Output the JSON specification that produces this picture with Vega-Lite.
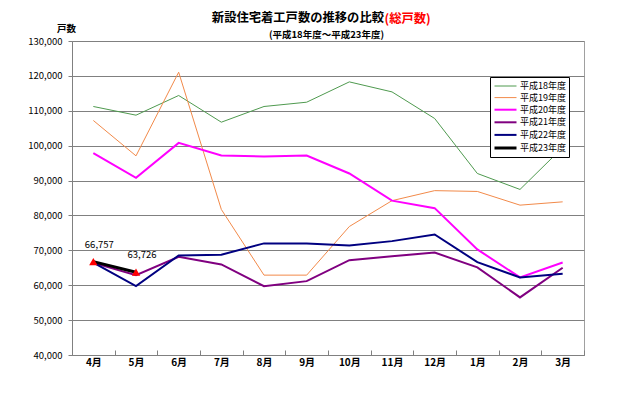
{
 "$schema": "https://vega.github.io/schema/vega-lite/v6.json",
 "width": 512, "height": 314,
 "autosize": {"type": "none"},
 "padding": {"left": 72, "top": 41, "right": 56, "bottom": 42},
 "background": "white",
 "title": {"text": "新設住宅着工戸数の推移の比較", "subtitle": "(平成18年度～平成23年度)\u00a0\u00a0", "anchor": "middle", "align": "right", "dx": 56, "offset": -27, "fontSize": 12.3, "fontWeight": "bold", "color": "black", "subtitleFontSize": 9.5, "subtitleColor": "black", "subtitleFontWeight": "bold", "subtitlePadding": 5},
 "data": {"values": [
  {"year":"平成18年度","month":"4月","value":111230},{"year":"平成18年度","month":"5月","value":108740},{"year":"平成18年度","month":"6月","value":114380},{"year":"平成18年度","month":"7月","value":106730},{"year":"平成18年度","month":"8月","value":111230},{"year":"平成18年度","month":"9月","value":112460},{"year":"平成18年度","month":"10月","value":118280},{"year":"平成18年度","month":"11月","value":115410},{"year":"平成18年度","month":"12月","value":107790},{"year":"平成18年度","month":"1月","value":92030},{"year":"平成18年度","month":"2月","value":87450},{"year":"平成18年度","month":"3月","value":99480},
  {"year":"平成19年度","month":"4月","value":107220},{"year":"平成19年度","month":"5月","value":97080},{"year":"平成19年度","month":"6月","value":121060},{"year":"平成19年度","month":"7月","value":81720},{"year":"平成19年度","month":"8月","value":62890},{"year":"平成19年度","month":"9月","value":62890},{"year":"平成19年度","month":"10月","value":76830},{"year":"平成19年度","month":"11月","value":84240},{"year":"平成19年度","month":"12月","value":87110},{"year":"平成19年度","month":"1月","value":86880},{"year":"平成19年度","month":"2月","value":82950},{"year":"平成19年度","month":"3月","value":83900},
  {"year":"平成20年度","month":"4月","value":97850},{"year":"平成20年度","month":"5月","value":90770},{"year":"平成20年度","month":"6月","value":100800},{"year":"平成20年度","month":"7月","value":97190},{"year":"平成20年度","month":"8月","value":96900},{"year":"平成20年度","month":"9月","value":97190},{"year":"平成20年度","month":"10月","value":92030},{"year":"平成20年度","month":"11月","value":84240},{"year":"平成20年度","month":"12月","value":82090},{"year":"平成20年度","month":"1月","value":70260},{"year":"平成20年度","month":"2月","value":62230},{"year":"平成20年度","month":"3月","value":66530},
  {"year":"平成21年度","month":"4月","value":66400},{"year":"平成21年度","month":"5月","value":62890},{"year":"平成21年度","month":"6月","value":68160},{"year":"平成21年度","month":"7月","value":65960},{"year":"平成21年度","month":"8月","value":59740},{"year":"平成21年度","month":"9月","value":61170},{"year":"平成21年度","month":"10月","value":67190},{"year":"平成21年度","month":"11月","value":68300},{"year":"平成21年度","month":"12月","value":69360},{"year":"平成21年度","month":"1月","value":65100},{"year":"平成21年度","month":"2月","value":56500},{"year":"平成21年度","month":"3月","value":65000},
  {"year":"平成22年度","month":"4月","value":66500},{"year":"平成22年度","month":"5月","value":59740},{"year":"平成22年度","month":"6月","value":68540},{"year":"平成22年度","month":"7月","value":68730},{"year":"平成22年度","month":"8月","value":71990},{"year":"平成22年度","month":"9月","value":71990},{"year":"平成22年度","month":"10月","value":71380},{"year":"平成22年度","month":"11月","value":72640},{"year":"平成22年度","month":"12月","value":74560},{"year":"平成22年度","month":"1月","value":66620},{"year":"平成22年度","month":"2月","value":62230},{"year":"平成22年度","month":"3月","value":63270},
  {"year":"平成23年度","month":"4月","value":66757},{"year":"平成23年度","month":"5月","value":63726}
 ]},
 "layer": [
  {
   "mark": {"type": "line"},
   "encoding": {
    "x": {"field": "month", "type": "nominal", "sort": ["4月","5月","6月","7月","8月","9月","10月","11月","12月","1月","2月","3月"], "scale": {"paddingInner": 0, "paddingOuter": 0},
      "axis": {"title": null, "labelAngle": 0, "grid": false, "domainColor": "#808080", "tickColor": "#808080", "tickBand": "extent", "tickSize": -5, "labelFontSize": 10, "labelFontWeight": "bold", "labelColor": "black", "labelPadding": 7}},
    "y": {"field": "value", "type": "quantitative", "scale": {"domain": [40000, 130000], "nice": false, "zero": false},
      "axis": {"title": "戸数", "titleAngle": 0, "titleX": -6, "titleY": -13, "titleAlign": "center", "titleBaseline": "middle", "titleFontSize": 9.5, "titleFontWeight": "bold", "titleColor": "black", "labelExpr": "format(datum.value, ',')", "values": [40000,50000,60000,70000,80000,90000,100000,110000,120000,130000], "labelFontSize": 9.5, "labelColor": "black", "labelPadding": 6, "tickSize": 4, "tickColor": "#808080", "domainColor": "#808080", "grid": true, "gridColor": "#808080"}},
    "color": {"field": "year", "type": "nominal", "scale": {"domain": ["平成18年度","平成19年度","平成20年度","平成21年度","平成22年度","平成23年度"], "range": ["#4f9a4f","#f28a4a","#ff00ff","#800080","#000080","#000000"]},
      "legend": {"title": null, "orient": "none", "legendX": 418, "legendY": 36, "symbolType": "M-1,0H3", "symbolSize": 121, "fillColor": "white", "strokeColor": "black", "padding": 3, "rowPadding": 0.6, "labelFontSize": 9, "labelColor": "black", "labelOffset": 13}},
    "strokeWidth": {"field": "year", "type": "nominal", "scale": {"type": "ordinal", "domain": ["平成18年度","平成19年度","平成20年度","平成21年度","平成22年度","平成23年度"], "range": [1, 1, 2, 2, 2, 3]},
      "legend": {"title": null, "orient": "none", "legendX": 418, "legendY": 36, "symbolType": "M-1,0H3", "symbolSize": 121, "fillColor": "white", "strokeColor": "black", "padding": 3, "rowPadding": 0.6, "labelFontSize": 9, "labelColor": "black", "labelOffset": 13}}
   }
  },
  {
   "transform": [{"filter": "datum.year === '平成23年度'"}],
   "mark": {"type": "point", "shape": "triangle-up", "filled": true, "color": "#ff0000", "size": 70, "opacity": 1},
   "encoding": {
    "x": {"field": "month", "type": "nominal", "sort": ["4月","5月","6月","7月","8月","9月","10月","11月","12月","1月","2月","3月"]},
    "y": {"field": "value", "type": "quantitative", "scale": {"domain": [40000, 130000], "nice": false, "zero": false}, "axis": null}
   }
  },
  {
   "transform": [{"filter": "datum.year === '平成23年度'"}],
   "mark": {"type": "text", "dy": -17, "dx": 6, "fontSize": 9.5, "color": "black"},
   "encoding": {
    "x": {"field": "month", "type": "nominal", "sort": ["4月","5月","6月","7月","8月","9月","10月","11月","12月","1月","2月","3月"]},
    "y": {"field": "value", "type": "quantitative", "scale": {"domain": [40000, 130000], "nice": false, "zero": false},
      "axis": {"orient": "right", "labels": false, "ticks": false, "domain": false, "grid": false, "title": "(総戸数)", "titleAngle": 0, "titleX": -200, "titleY": -23, "titleAlign": "left", "titleBaseline": "middle", "titleColor": "#ff0000", "titleFontSize": 12.3, "titleFontWeight": "bold"}},
    "text": {"field": "value", "type": "quantitative", "format": ","}
   }
  }
 ],
 "resolve": {"axis": {"y": "independent"}},
 "config": {"font": "Noto Sans CJK JP", "view": {"stroke": "#a0a0a0"}}
}
